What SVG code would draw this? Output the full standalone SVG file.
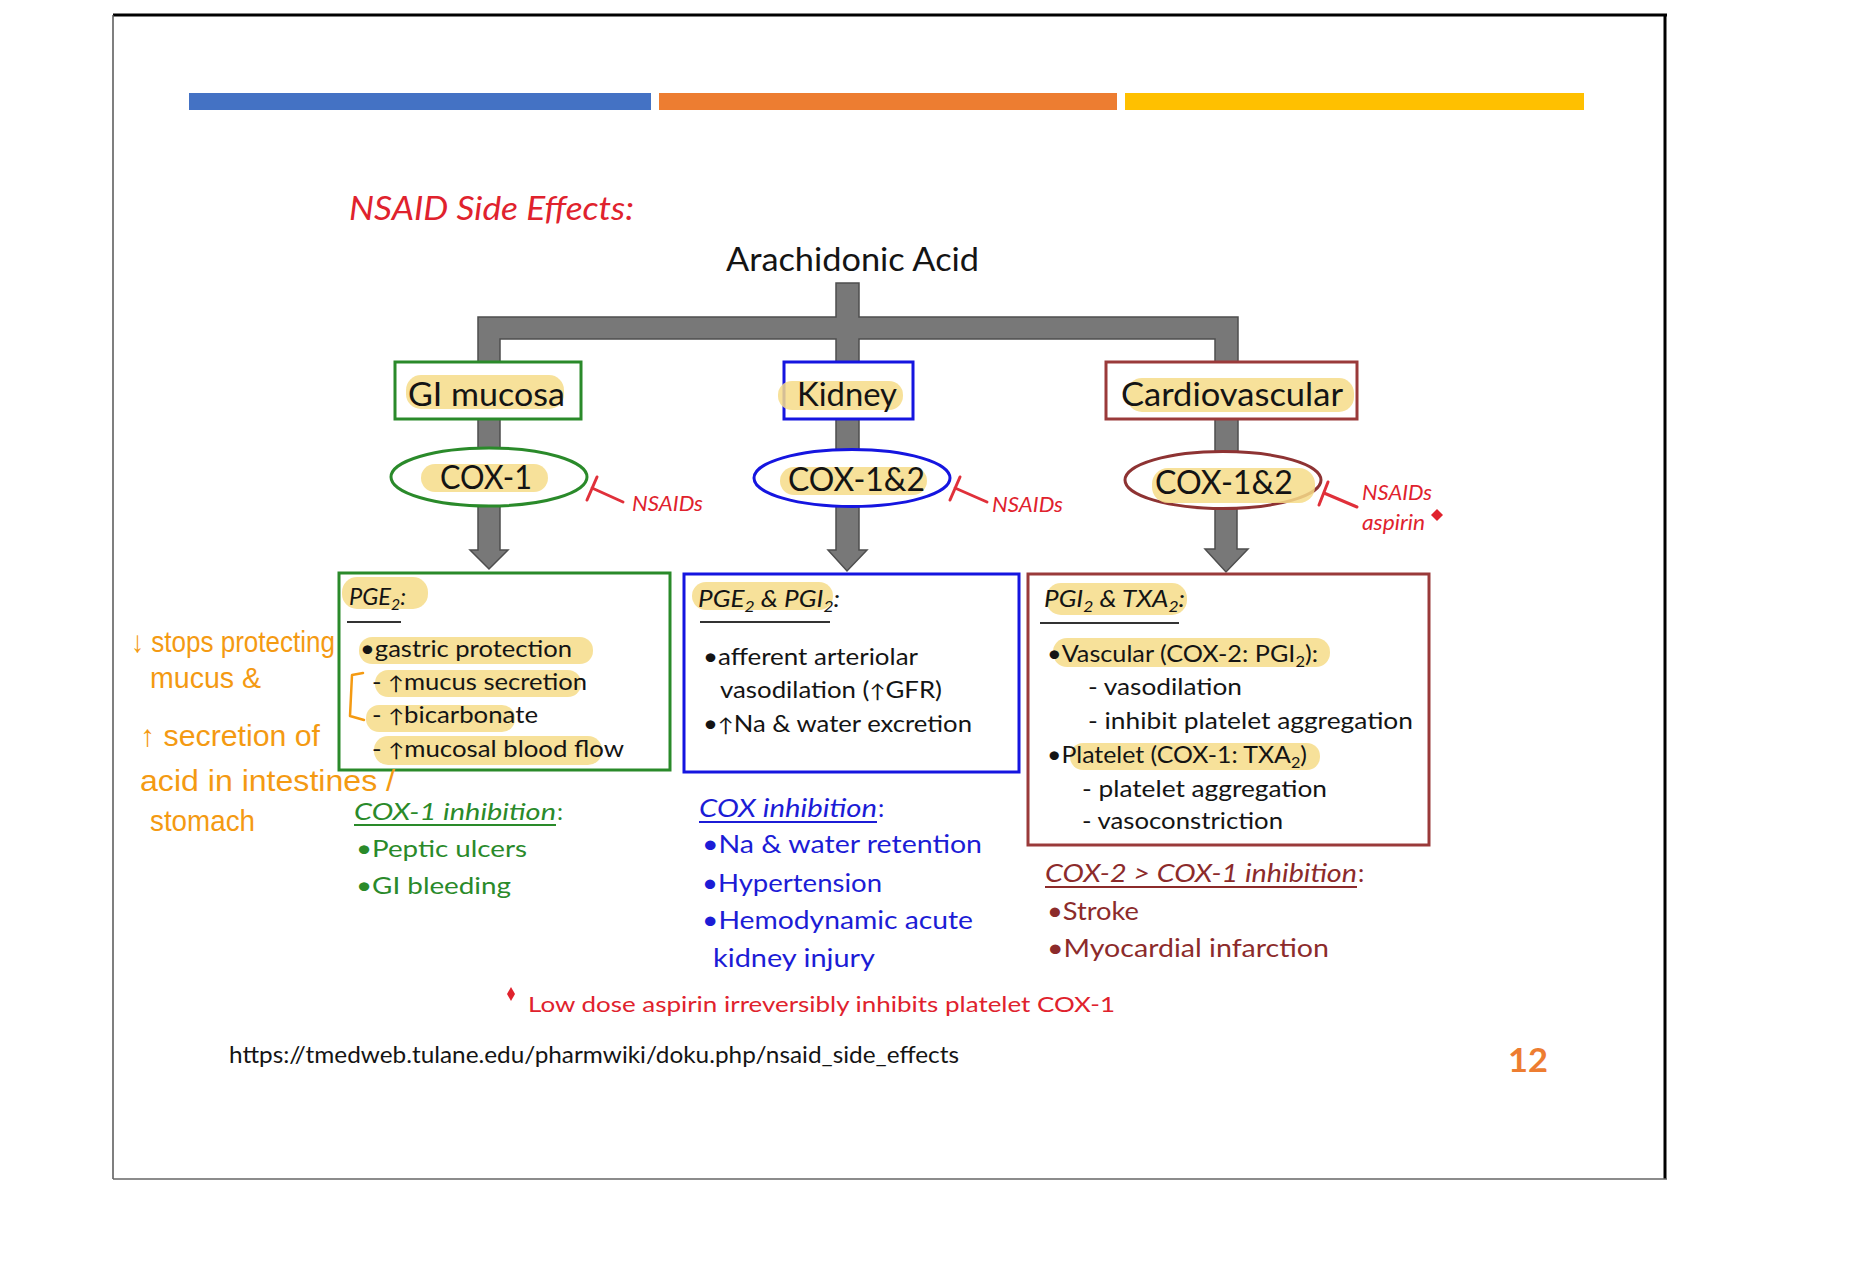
<svg xmlns="http://www.w3.org/2000/svg" width="1874" height="1274" viewBox="0 0 1874 1274">
<style>
  text { font-family: Lato, "Liberation Sans", sans-serif; }
  .dk { fill: #141414; }
  .big { font-size: 32px; }
  .body { font-size: 23px; }
  .it { font-style: italic; }
  .red { fill: #e0222d; }
  .grn { fill: #2a8a2a; }
  .blu { fill: #1c1cd6; }
  .mar { fill: #8c2b2b; }
  .hl { fill: #f6dc88; opacity: 0.85; }
  .gbox { fill: #fff; stroke: #2a8a2a; stroke-width: 3; }
  .bbox { fill: #fff; stroke: #1515e0; stroke-width: 3; }
  .rbox { fill: #fff; stroke: #9a3a3a; stroke-width: 3; }
  .conn { fill: #787878; stroke: #4e4e4e; stroke-width: 1.5; stroke-linejoin: miter; }
  .inh { fill: none; stroke: #e0303a; stroke-width: 3; stroke-linecap: round; }
  .ul { stroke-width: 1.8; }
  .ar { font-size: 19px; }
  .hand { font-family: "Liberation Sans Narrow", "Liberation Sans", sans-serif; font-size: 30px; fill: #f49a12; }
</style>

<!-- slide frame -->
<g id="frame">
  <line x1="113" y1="15" x2="1667" y2="15" stroke="#000" stroke-width="3"/>
  <line x1="1665" y1="15" x2="1665" y2="1179" stroke="#000" stroke-width="3"/>
  <line x1="113" y1="15" x2="113" y2="1179" stroke="#555" stroke-width="1.5"/>
  <line x1="113" y1="1179" x2="1667" y2="1179" stroke="#666" stroke-width="1.5"/>
  <rect x="189" y="93" width="462" height="17" fill="#4472c4"/>
  <rect x="659" y="93" width="458" height="17" fill="#ed7d31"/>
  <rect x="1125" y="93" width="459" height="17" fill="#ffc000"/>
</g>

<text id="title" x="349" y="220" class="it red" font-size="32" textLength="285" lengthAdjust="spacingAndGlyphs">NSAID Side Effects:</text>

<!-- connectors -->
<g id="connectors">
  <polygon class="conn" points="478,362 478,317 836,317 836,283 859,283 859,317 1238,317 1238,362 1215,362 1215,339 859,339 859,362 836,362 836,339 500,339 500,362"/>
  <rect class="conn" x="478" y="418" width="22" height="34"/>
  <rect class="conn" x="836" y="418" width="23" height="36"/>
  <rect class="conn" x="1215" y="418" width="23" height="38"/>
  <polygon class="conn" points="478,500 500,500 500,550 508,550 489,569 470,550 478,550"/>
  <polygon class="conn" points="836,502 859,502 859,550 867,550 847,571 828,550 836,550"/>
  <polygon class="conn" points="1215,504 1237,504 1237,549 1248,549 1226,572 1205,549 1215,549"/>
  <!-- NSAID inhibition T-bars -->
  <path class="inh" d="M597,477 L587,500 M592,488 L623,502"/>
  <path class="inh" d="M960,477 L950,500 M955,488 L987,502"/>
  <path class="inh" d="M1328,482 L1319,505 M1324,493 L1357,507"/>
</g>

<g id="arachidonic-acid">
  <text x="726" y="271" class="big dk" textLength="253" lengthAdjust="spacingAndGlyphs">Arachidonic Acid</text>
</g>

<!-- tissue boxes -->
<g id="gi-mucosa">
  <rect class="gbox" x="395" y="362" width="186" height="57"/>
  <rect class="hl" x="406" y="375" width="158" height="34" rx="15"/>
  <text x="408" y="406" class="big dk" textLength="157" lengthAdjust="spacingAndGlyphs">GI mucosa</text>
</g>
<g id="kidney">
  <rect class="bbox" x="784" y="362" width="129" height="57"/>
  <rect class="hl" x="778" y="381" width="125" height="29" rx="14"/>
  <text x="797" y="406" class="big dk" textLength="100" lengthAdjust="spacingAndGlyphs">Kidney</text>
</g>
<g id="cardiovascular">
  <rect class="rbox" x="1106" y="362" width="251" height="57"/>
  <rect class="hl" x="1127" y="378" width="227" height="34" rx="15"/>
  <text x="1121" y="406" class="big dk" textLength="222" lengthAdjust="spacingAndGlyphs">Cardiovascular</text>
</g>

<!-- enzymes -->
<g id="cox1-gi">
  <ellipse cx="489" cy="477" rx="98" ry="29" fill="#fff" stroke="#2a8a2a" stroke-width="3"/>
  <rect class="hl" x="421" y="464" width="127" height="28" rx="14"/>
  <text x="440" y="489" class="big dk" textLength="92" lengthAdjust="spacingAndGlyphs">COX-1</text>
  <text x="632" y="511" class="it red" font-size="21" textLength="71" lengthAdjust="spacingAndGlyphs">NSAIDs</text>
</g>
<g id="cox12-kidney">
  <ellipse cx="852" cy="478" rx="98" ry="28.5" fill="#fff" stroke="#1515e0" stroke-width="3"/>
  <rect class="hl" x="780" y="467" width="147" height="28" rx="14"/>
  <text x="788" y="491" class="big dk" textLength="137" lengthAdjust="spacingAndGlyphs">COX-1&amp;2</text>
  <text x="992" y="512" class="it red" font-size="21" textLength="71" lengthAdjust="spacingAndGlyphs">NSAIDs</text>
</g>
<g id="cox12-cardio">
  <ellipse cx="1223" cy="480" rx="98" ry="28.5" fill="#fff" stroke="#8e3333" stroke-width="3"/>
  <rect class="hl" x="1152" y="468" width="163" height="35" rx="16"/>
  <text x="1155" y="494" class="big dk" textLength="138" lengthAdjust="spacingAndGlyphs">COX-1&amp;2</text>
  <text x="1362" y="500" class="it red" font-size="21" textLength="70" lengthAdjust="spacingAndGlyphs">NSAIDs</text>
  <text x="1362" y="530" class="it red" font-size="21" textLength="63" lengthAdjust="spacingAndGlyphs">aspirin</text>
  <polygon points="1437,509 1443,515 1437,521 1431,515" fill="#e0222d"/>
</g>

<!-- prostaglandin boxes -->
<g id="pge2-gi">
  <rect class="gbox" x="339" y="573" width="331" height="197"/>
  <rect class="hl" x="342" y="577" width="86" height="32" rx="15"/>
  <rect class="hl" x="359" y="637" width="234" height="27" rx="13"/>
  <rect class="hl" x="375" y="670" width="206" height="27" rx="13"/>
  <rect class="hl" x="366" y="705" width="149" height="27" rx="13"/>
  <rect class="hl" x="374" y="736" width="228" height="29" rx="14"/>
  <text x="349" y="605" class="it dk" font-size="24" textLength="57" lengthAdjust="spacingAndGlyphs">PGE<tspan font-size="16" dy="5">2</tspan><tspan dy="-5">:</tspan></text>
  <line class="ul" x1="347" y1="622" x2="401" y2="622" stroke="#333"/>
  <text x="360" y="657" class="body dk" textLength="212" lengthAdjust="spacingAndGlyphs">•gastric protection</text>
  <text x="372" y="690" class="body dk" textLength="215" lengthAdjust="spacingAndGlyphs">- <tspan class="ar">↑</tspan>mucus secretion</text>
  <text x="372" y="723" class="body dk" textLength="166" lengthAdjust="spacingAndGlyphs">- <tspan class="ar">↑</tspan>bicarbonate</text>
  <text x="372" y="757" class="body dk" textLength="252" lengthAdjust="spacingAndGlyphs">- <tspan class="ar">↑</tspan>mucosal blood flow</text>
</g>
<g id="gi-effects">
  <text x="354" y="820" class="it grn" font-size="24" textLength="202" lengthAdjust="spacingAndGlyphs">COX-1 inhibition</text>
  <text x="557" y="820" class="grn" font-size="24">:</text>
  <line class="ul" x1="354" y1="825" x2="556" y2="825" stroke="#2a8a2a"/>
  <text x="356" y="857" class="grn" font-size="24" textLength="171" lengthAdjust="spacingAndGlyphs">•Peptic ulcers</text>
  <text x="356" y="894" class="grn" font-size="24" textLength="155" lengthAdjust="spacingAndGlyphs">•GI bleeding</text>
</g>

<g id="pge2-pgi2-kidney">
  <rect class="bbox" x="684" y="574" width="335" height="198"/>
  <rect class="hl" x="692" y="582" width="141" height="28" rx="14"/>
  <text x="698" y="607" class="it dk" font-size="24" textLength="142" lengthAdjust="spacingAndGlyphs">PGE<tspan font-size="16" dy="5">2</tspan><tspan dy="-5"> &amp; PGI</tspan><tspan font-size="16" dy="5">2</tspan><tspan dy="-5">:</tspan></text>
  <line class="ul" x1="700" y1="622" x2="830" y2="622" stroke="#333"/>
  <text x="703" y="665" class="body dk" textLength="215" lengthAdjust="spacingAndGlyphs">•afferent arteriolar</text>
  <text x="720" y="698" class="body dk" textLength="222" lengthAdjust="spacingAndGlyphs">vasodilation (<tspan class="ar">↑</tspan>GFR)</text>
  <text x="703" y="732" class="body dk" textLength="269" lengthAdjust="spacingAndGlyphs">•<tspan class="ar">↑</tspan>Na &amp; water excretion</text>
</g>
<g id="kidney-effects">
  <text x="699" y="817" class="it blu" font-size="25" textLength="178" lengthAdjust="spacingAndGlyphs">COX inhibition</text>
  <text x="878" y="817" class="blu" font-size="25">:</text>
  <line class="ul" x1="699" y1="822" x2="877" y2="822" stroke="#1c1cd6"/>
  <text x="702" y="853" class="blu" font-size="25" textLength="280" lengthAdjust="spacingAndGlyphs">•Na &amp; water retention</text>
  <text x="702" y="892" class="blu" font-size="25" textLength="180" lengthAdjust="spacingAndGlyphs">•Hypertension</text>
  <text x="702" y="929" class="blu" font-size="25" textLength="271" lengthAdjust="spacingAndGlyphs">•Hemodynamic acute</text>
  <text x="713" y="967" class="blu" font-size="25" textLength="162" lengthAdjust="spacingAndGlyphs">kidney injury</text>
</g>

<g id="pgi2-txa2-cardio">
  <rect class="rbox" x="1028" y="574" width="401" height="271"/>
  <rect class="hl" x="1046" y="583" width="141" height="32" rx="15"/>
  <rect class="hl" x="1053" y="638" width="277" height="29" rx="14"/>
  <rect class="hl" x="1070" y="743" width="250" height="27" rx="13"/>
  <text x="1044" y="607" class="it dk" font-size="24" textLength="141" lengthAdjust="spacingAndGlyphs">PGI<tspan font-size="16" dy="5">2</tspan><tspan dy="-5"> &amp; TXA</tspan><tspan font-size="16" dy="5">2</tspan><tspan dy="-5">:</tspan></text>
  <line class="ul" x1="1040" y1="623" x2="1179" y2="623" stroke="#333"/>
  <text x="1047" y="662" class="body dk" textLength="271" lengthAdjust="spacingAndGlyphs">•Vascular (COX-2: PGI<tspan font-size="15" dy="5">2</tspan><tspan dy="-5">):</tspan></text>
  <text x="1088" y="695" class="body dk" textLength="154" lengthAdjust="spacingAndGlyphs">- vasodilation</text>
  <text x="1088" y="729" class="body dk" textLength="325" lengthAdjust="spacingAndGlyphs">- inhibit platelet aggregation</text>
  <text x="1047" y="763" class="body dk" textLength="260" lengthAdjust="spacingAndGlyphs">•Platelet (COX-1: TXA<tspan font-size="15" dy="5">2</tspan><tspan dy="-5">)</tspan></text>
  <text x="1082" y="797" class="body dk" textLength="245" lengthAdjust="spacingAndGlyphs">- platelet aggregation</text>
  <text x="1082" y="829" class="body dk" textLength="201" lengthAdjust="spacingAndGlyphs">- vasoconstriction</text>
</g>
<g id="cardio-effects">
  <text x="1045" y="882" class="it mar" font-size="25" textLength="312" lengthAdjust="spacingAndGlyphs">COX-2 &gt; COX-1 inhibition</text>
  <text x="1358" y="882" class="mar" font-size="25">:</text>
  <line class="ul" x1="1045" y1="887" x2="1357" y2="887" stroke="#8c2b2b"/>
  <text x="1047" y="920" class="mar" font-size="25" textLength="92" lengthAdjust="spacingAndGlyphs">•Stroke</text>
  <text x="1047" y="957" class="mar" font-size="25" textLength="282" lengthAdjust="spacingAndGlyphs">•Myocardial infarction</text>
</g>

<g id="footnote">
  <polygon points="511,987 515,994 511,1001 507,994" fill="#e0222d"/>
  <text x="528" y="1012" class="red" font-size="22" textLength="587" lengthAdjust="spacingAndGlyphs">Low dose aspirin irreversibly inhibits platelet COX-1</text>
</g>

<g id="handwritten-note">
  <text x="131" y="652" class="hand" textLength="204" lengthAdjust="spacingAndGlyphs">↓ stops protecting</text>
  <text x="150" y="688" class="hand" textLength="111" lengthAdjust="spacingAndGlyphs">mucus &amp;</text>
  <text x="140" y="746" class="hand" textLength="180" lengthAdjust="spacingAndGlyphs">↑ secretion of</text>
  <text x="140" y="791" class="hand" textLength="255" lengthAdjust="spacingAndGlyphs">acid in intestines /</text>
  <text x="150" y="831" class="hand" textLength="105" lengthAdjust="spacingAndGlyphs">stomach</text>
  <path d="M363,673 L352,675 L350,716 L364,720" fill="none" stroke="#f49a12" stroke-width="2.5" stroke-linecap="round" stroke-linejoin="round"/>
</g>

<g id="source">
  <text x="229" y="1063" class="dk" font-size="24" textLength="730" lengthAdjust="spacingAndGlyphs">https://tmedweb.tulane.edu/pharmwiki/doku.php/nsaid_side_effects</text>
  <text x="1508" y="1072" font-size="32" font-weight="bold" fill="#ed7d31" textLength="40" lengthAdjust="spacingAndGlyphs">12</text>
</g>
</svg>
